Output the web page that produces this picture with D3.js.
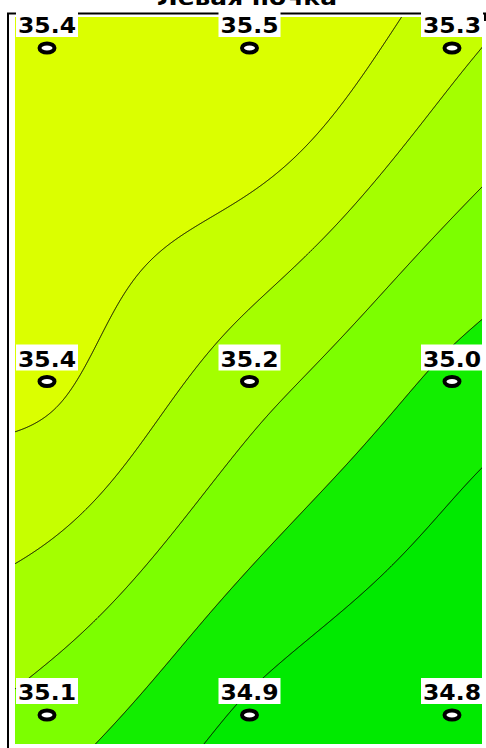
<!DOCTYPE html>
<html>
<head>
<meta charset="utf-8">
<script src="https://cdn.jsdelivr.net/npm/d3@7"></script>
<style>
  body { margin: 0; background: #fff; }
  svg { display: block; }
  text { font-family: "DejaVu Sans", sans-serif; font-weight: bold; }
</style>
</head>
<body>
<div class="chart"></div>
<script>
// measured values, 3 x 3 points
var title = 'Левая почка';
var columns = [0, 1, 2];
var rows = [0, 1, 2];
var rowTop = [35.4, 35.5, 35.3];
var rowMiddle = [35.4, 35.2, 35.0];
var rowBottom = [35.1, 34.9, 34.8];
var levels = [34.92, 35.03, 35.15, 35.27, 35.38];
var bandColors = ['#00ea00', '#12ee00', '#7cff00', '#a4ff00', '#c6ff00', '#dbff00'];

var width = 486, height = 748;
var area = { left: 15, top: 17, right: 482, bottom: 744 };

var svg = d3.select('.chart')
    .append('svg')
    .attr('width', width)
    .attr('height', height);

var x = d3.scaleLinear().domain([0, 2]).range([47, 452]);
var y = d3.scaleLinear().domain([0, 2]).range([48, 715]);

var table = [rowTop, rowMiddle, rowBottom];

var points = [];
rows.forEach(function (j) {
    columns.forEach(function (i) {
        points.push({ col: i, row: j, value: table[j][i] });
    });
});

// thin plate spline through the points, in grid units (gridding for the contours)
function kernel(r2) {
    return r2 > 0 ? r2 * Math.log(r2) / 2 : 0;
}
function solve(A, b) {
    var n = b.length;
    for (var c = 0; c < n; c++) {
        var p = c;
        for (var r = c + 1; r < n; r++) if (Math.abs(A[r][c]) > Math.abs(A[p][c])) p = r;
        var t = A[c]; A[c] = A[p]; A[p] = t;
        t = b[c]; b[c] = b[p]; b[p] = t;
        for (var r = c + 1; r < n; r++) {
            var f = A[r][c] / A[c][c];
            for (var k = c; k < n; k++) A[r][k] -= f * A[c][k];
            b[r] -= f * b[c];
        }
    }
    var out = new Array(n);
    for (var r = n - 1; r >= 0; r--) {
        var s = b[r];
        for (var k = r + 1; k < n; k++) s -= A[r][k] * out[k];
        out[r] = s / A[r][r];
    }
    return out;
}
var px = points.map(d => d.col);
var py = points.map(d => d.row);
var n = points.length;
var A = [], b = [];
for (var i = 0; i < n + 3; i++) {
    A.push(new Array(n + 3).fill(0));
    b.push(i < n ? points[i].value : 0);
}
for (var i = 0; i < n; i++) {
    for (var k = 0; k < n; k++) {
        var dx = px[i] - px[k], dy = py[i] - py[k];
        A[i][k] = kernel(dx * dx + dy * dy);
    }
    A[i][n] = A[n][i] = 1;
    A[i][n + 1] = A[n + 1][i] = px[i];
    A[i][n + 2] = A[n + 2][i] = py[i];
}
var coef = solve(A, b);
function field(u, v) {
    var s = coef[n] + coef[n + 1] * u + coef[n + 2] * v;
    for (var i = 0; i < n; i++) {
        var dx = u - px[i], dy = v - py[i];
        s += coef[i] * kernel(dx * dx + dy * dy);
    }
    return s;
}

var pad = 4, step = 1;
var x0 = area.left - pad, y0 = area.top - pad;
var nx = Math.ceil((area.right - area.left + 2 * pad) / step);
var ny = Math.ceil((area.bottom - area.top + 2 * pad) / step);
var grid = new Array(nx * ny);
for (var j = 0; j < ny; j++) {
    var v = y.invert(y0 + (j + 0.5) * step);
    for (var i = 0; i < nx; i++) {
        grid[j * nx + i] = field(x.invert(x0 + (i + 0.5) * step), v);
    }
}

var contours = d3.contours().size([nx, ny]).thresholds(levels)(grid);
var path = d3.geoPath(d3.geoIdentity().scale(step).translate([x0, y0]));

svg.append('clipPath')
    .attr('id', 'clip')
    .append('rect')
    .attr('x', area.left)
    .attr('y', area.top)
    .attr('width', area.right - area.left)
    .attr('height', area.bottom - area.top);

var plot = svg.append('g').attr('clip-path', 'url(#clip)');

plot.append('rect')
    .attr('x', area.left)
    .attr('y', area.top)
    .attr('width', area.right - area.left)
    .attr('height', area.bottom - area.top)
    .style('fill', bandColors[0]);

plot.selectAll('.band')
    .data(contours)
    .enter()
    .append('path')
    .attr('class', 'band')
    .attr('d', path)
    .style('fill', (d, k) => bandColors[k + 1])
    .style('stroke', '#000')
    .style('stroke-width', 1);

// frame
svg.append('path')
    .attr('d', 'M8,748V13.5H485V21')
    .style('fill', 'none')
    .style('stroke', '#000')
    .style('stroke-width', 2);

svg.append('text')
    .attr('x', 247)
    .attr('y', 4.5)
    .attr('text-anchor', 'middle')
    .attr('textLength', 180)
    .attr('lengthAdjust', 'spacingAndGlyphs')
    .style('font-size', '21px')
    .text(title);

// measurement points
var pt = svg.selectAll('.pt')
    .data(points)
    .enter()
    .append('g')
    .attr('class', 'pt')
    .attr('transform', d => `translate(${x(d.col)}, ${y(d.row)})`);

pt.append('rect')
    .attr('x', -31)
    .attr('y', -37)
    .attr('width', 62)
    .attr('height', 26)
    .style('fill', '#fff');

pt.append('text')
    .attr('x', 0)
    .attr('y', -15)
    .attr('text-anchor', 'middle')
    .attr('textLength', 58)
    .attr('lengthAdjust', 'spacingAndGlyphs')
    .style('font-size', '21px')
    .text(d => d.value.toFixed(1));

pt.append('ellipse')
    .attr('rx', 7.5)
    .attr('ry', 4.5)
    .style('fill', '#fff')
    .style('stroke', '#000')
    .style('stroke-width', 4);
</script>
</body>
</html>
